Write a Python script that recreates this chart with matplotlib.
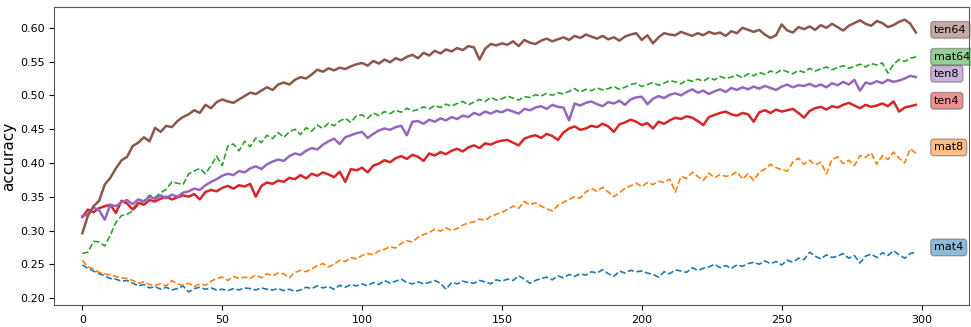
import matplotlib
matplotlib.use("Agg")
import matplotlib.pyplot as plt

# accuracy recorded every second epoch
epochs = list(range(0, 300, 2))

mat4 = [
    .249, .244, .240, .236, .233, .229, .228, .225, .226, .222,
    .218, .220, .215, .217, .213, .216, .212, .214, .218, .209,
    .214, .216, .213, .215, .212, .213, .211, .214, .212, .215,
    .214, .212, .215, .213, .212, .214, .211, .213, .210, .212,
    .216, .214, .218, .215, .217, .213, .219, .216, .220, .218,
    .221, .218, .223, .220, .226, .222, .225, .228, .223, .221,
    .224, .221, .223, .226, .222, .213, .223, .221, .225, .223,
    .222, .226, .224, .221, .227, .225, .228, .226, .233, .228,
    .222, .226, .229, .231, .227, .233, .230, .235, .232, .236,
    .234, .239, .237, .242, .236, .232, .240, .237, .241, .239,
    .240, .237, .235, .231, .239, .236, .242, .240, .238, .245,
    .241, .244, .246, .250, .245, .248, .244, .249, .247, .251,
    .253, .250, .255, .251, .254, .249, .256, .253, .259, .257,
    .268, .262, .258, .264, .260, .262, .266, .259, .263, .252,
    .262, .265, .260, .267, .263, .270, .264, .259, .266, .268,
]

mat8 = [
    .256, .246, .243, .238, .236, .234, .232, .230, .229, .226,
    .222, .224, .220, .219, .221, .218, .226, .221, .219, .222,
    .217, .221, .219, .225, .229, .231, .226, .232, .229, .231,
    .229, .234, .230, .236, .233, .237, .236, .230, .238, .241,
    .239, .243, .248, .251, .246, .250, .256, .254, .260, .258,
    .263, .266, .264, .270, .272, .276, .274, .281, .285, .283,
    .290, .294, .297, .302, .299, .304, .300, .303, .308, .311,
    .313, .317, .315, .321, .324, .327, .331, .336, .333, .343,
    .338, .341, .336, .332, .329, .337, .342, .346, .350, .348,
    .357, .362, .358, .364, .357, .350, .356, .362, .366, .370,
    .365, .371, .368, .373, .371, .376, .357, .380, .377, .386,
    .380, .374, .385, .378, .383, .380, .382, .387, .376, .384,
    .374, .386, .391, .398, .393, .390, .388, .401, .407, .398,
    .404, .397, .401, .384, .405, .409, .399, .404, .396, .411,
    .408, .415, .398, .411, .405, .416, .407, .400, .421, .414,
]

mat64 = [
    .266, .268, .284, .283, .277, .293, .312, .322, .324, .329,
    .338, .344, .352, .349, .356, .361, .372, .370, .368, .384,
    .388, .392, .384, .396, .410, .396, .425, .428, .418, .432,
    .424, .437, .430, .441, .436, .445, .438, .446, .450, .442,
    .452, .447, .456, .451, .459, .455, .462, .466, .460, .470,
    .471, .466, .474, .470, .476, .473, .478, .475, .481, .477,
    .479, .483, .480, .485, .482, .487, .484, .488, .491, .486,
    .490, .494, .491, .497, .493, .495, .499, .496, .493, .498,
    .497, .501, .499, .503, .500, .504, .502, .506, .510, .505,
    .509, .507, .511, .508, .510, .513, .509, .512, .516, .518,
    .513, .516, .519, .515, .518, .522, .520, .517, .523, .521,
    .524, .521, .526, .523, .528, .525, .527, .530, .526, .532,
    .529, .534, .531, .536, .533, .538, .535, .532, .537, .534,
    .540, .536, .539, .542, .538, .541, .544, .540, .543, .546,
    .542, .547, .545, .548, .533, .546, .553, .550, .555, .557,
]

ten4 = [
    .320, .331, .327, .333, .336, .338, .326, .344, .340, .331,
    .341, .338, .345, .343, .347, .350, .346, .349, .352, .350,
    .354, .346, .357, .360, .358, .363, .366, .362, .367, .365,
    .369, .350, .366, .371, .369, .374, .372, .378, .376, .382,
    .377, .384, .381, .386, .383, .379, .387, .372, .391, .389,
    .393, .386, .396, .399, .404, .401, .407, .410, .406, .412,
    .409, .403, .414, .411, .416, .413, .418, .421, .417, .423,
    .426, .422, .429, .427, .431, .433, .434, .430, .426, .436,
    .439, .441, .437, .443, .440, .434, .445, .451, .454, .449,
    .451, .455, .453, .458, .454, .446, .457, .460, .464, .461,
    .456, .459, .451, .461, .458, .463, .467, .465, .469, .467,
    .462, .456, .468, .471, .474, .476, .472, .470, .474, .472,
    .461, .475, .478, .474, .479, .476, .478, .480, .474, .467,
    .477, .481, .483, .479, .484, .482, .486, .489, .485, .481,
    .486, .483, .485, .488, .484, .491, .476, .482, .484, .486,
]

ten8 = [
    .321, .324, .334, .330, .316, .338, .336, .342, .345, .339,
    .346, .343, .350, .347, .352, .348, .353, .350, .356, .358,
    .362, .360, .367, .372, .376, .381, .384, .382, .388, .386,
    .392, .395, .391, .398, .402, .405, .403, .410, .414, .412,
    .418, .422, .420, .427, .432, .436, .428, .438, .441, .444,
    .446, .437, .443, .448, .451, .449, .453, .455, .441, .461,
    .462, .458, .464, .461, .466, .463, .468, .465, .470, .468,
    .474, .471, .476, .473, .477, .475, .479, .476, .473, .480,
    .478, .482, .484, .480, .486, .483, .482, .463, .488, .485,
    .489, .491, .487, .484, .490, .488, .492, .486, .494, .497,
    .498, .487, .495, .499, .496, .501, .503, .500, .505, .509,
    .504, .507, .502, .506, .509, .505, .511, .508, .512, .509,
    .513, .510, .514, .511, .508, .513, .516, .512, .515, .514,
    .517, .513, .516, .512, .518, .515, .520, .516, .523, .507,
    .519, .517, .521, .518, .523, .520, .522, .525, .529, .527,
]

ten64 = [
    .296, .322, .336, .344, .368, .378, .392, .404, .409, .425,
    .430, .438, .432, .452, .446, .455, .453, .462, .468, .472,
    .478, .474, .486, .481, .490, .494, .491, .489, .494, .499,
    .504, .502, .507, .512, .508, .516, .519, .516, .523, .527,
    .525, .531, .538, .535, .540, .537, .541, .539, .543, .546,
    .548, .544, .551, .547, .553, .549, .555, .552, .557, .560,
    .555, .563, .559, .566, .562, .568, .565, .570, .567, .573,
    .571, .553, .569, .576, .574, .577, .575, .580, .573, .582,
    .578, .576, .581, .584, .580, .583, .586, .582, .588, .585,
    .590, .587, .584, .588, .583, .586, .581, .587, .590, .592,
    .582, .589, .577, .586, .592, .590, .589, .594, .591, .588,
    .592, .589, .594, .591, .593, .588, .595, .592, .600, .597,
    .594, .597, .590, .585, .589, .605, .596, .593, .601, .598,
    .602, .597, .604, .600, .606, .601, .596, .603, .607, .611,
    .606, .603, .610, .607, .601, .604, .609, .612, .606, .593,
]

names = ["mat4", "mat8", "mat64", "ten4", "ten8", "ten64"]
series = [mat4, mat8, mat64, ten4, ten8, ten64]
colors = ["tab:blue", "tab:orange", "tab:green", "tab:red", "tab:purple", "tab:brown"]
styles = ["--", "--", "--", "-", "-", "-"]
widths = [1.2, 1.2, 1.2, 1.8, 1.8, 1.8]
# vertical placement of the name tags at the right edge
label_y = [0.275, 0.423, 0.557, 0.492, 0.532, 0.597]
label_x = 304.5

fig = plt.figure(figsize=(9.71, 3.27), dpi=100)
ax = fig.add_axes([0.056, 0.067, 0.942, 0.912])

for name, vals, c, ls, lw, ly in zip(names, series, colors, styles, widths, label_y):
    ax.plot(epochs, vals, color=c, linestyle=ls, linewidth=lw)
    ax.text(label_x, ly, name, ha="left", va="center", fontsize=8,
            bbox=dict(boxstyle="round,pad=0.3", facecolor=c, alpha=0.5,
                      edgecolor="0.35"))

ax.set_xlim(-10, 317)
ax.set_ylim(0.1896, 0.631)
ax.set_xticks([0, 50, 100, 150, 200, 250, 300])
ax.set_yticks([0.20, 0.25, 0.30, 0.35, 0.40, 0.45, 0.50, 0.55, 0.60])
ax.set_yticklabels([f"{v:.2f}" for v in ax.get_yticks()])
ax.tick_params(labelsize=8)
ax.set_ylabel("accuracy", fontsize=11)
ax.yaxis.set_label_coords(-0.042, 0.5)
for s in ax.spines.values():
    s.set_color("0.35")

fig.savefig("out.png", dpi=100)
